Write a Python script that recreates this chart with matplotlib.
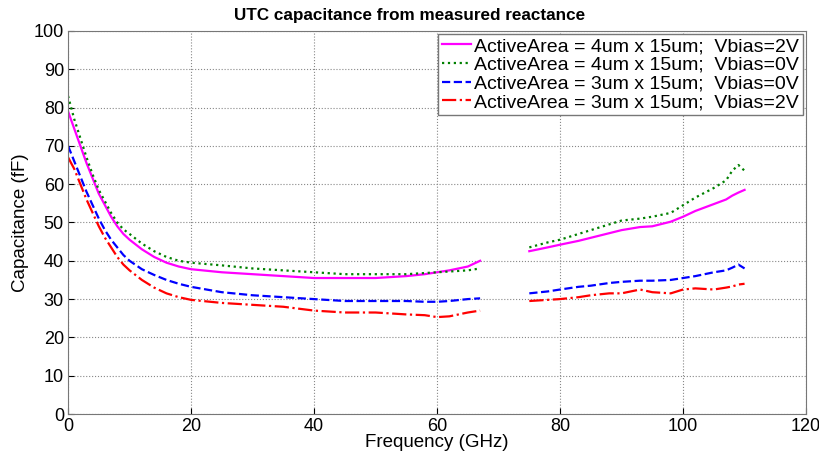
import matplotlib
matplotlib.use('Agg')
import matplotlib.pyplot as plt
import numpy as np

plt.rcParams['font.family'] = ['Liberation Sans', 'DejaVu Sans']

# low band (0-67 GHz) and high band (75-110 GHz) measurements
f_low = [0, 1, 2, 3, 4, 5, 6, 7, 8, 9, 10, 12, 14, 16, 18, 20, 25, 30, 35, 40, 45, 50, 55, 58, 60, 62, 65, 67]
f_high = [75, 78, 80, 83, 85, 88, 90, 93, 95, 98, 100, 102, 105, 107, 108, 109, 110]

mag_low = [79, 74.5, 70, 65.5, 61.5, 57.5, 54.5, 51.5, 49, 47, 45.5, 43, 41, 39.5, 38.5, 37.8, 37, 36.5, 36, 35.5, 35.5, 35.5, 36, 36.5, 37, 37.5, 38.5, 40]
mag_high = [42.5, 43.5, 44.2, 45.2, 46, 47.2, 48, 48.8, 49, 50.2, 51.5, 53, 54.8, 56, 57, 57.8, 58.5]

grn_low = [83, 77, 72, 67, 62.5, 58.5, 55.5, 52.5, 50, 48.2, 47, 44.5, 42.5, 41, 40, 39.5, 38.8, 38, 37.5, 37, 36.5, 36.5, 36.5, 36.8, 37, 37.2, 37.5, 38]
grn_high = [43.5, 44.8, 45.5, 47, 48, 49.5, 50.5, 51, 51.5, 52.5, 54.5, 56.5, 59, 61, 63.5, 65, 63.5]

blu_low = [70, 66, 62, 58, 54.5, 51, 48, 45.5, 43.5, 41.5, 40, 37.8, 36.3, 35, 34, 33.2, 31.8, 31, 30.5, 30, 29.5, 29.5, 29.5, 29.3, 29.3, 29.5, 30, 30.2]
blu_high = [31.5, 32, 32.5, 33.2, 33.5, 34.2, 34.5, 34.8, 34.8, 35, 35.5, 36, 37, 37.5, 38.2, 39, 38]

red_low = [67, 64, 60, 56, 52.5, 49, 46, 43.5, 41, 39, 37.5, 35, 33, 31.5, 30.5, 29.8, 29, 28.5, 28, 27, 26.5, 26.5, 26, 25.8, 25.3, 25.5, 26.5, 27]
red_high = [29.5, 29.8, 30, 30.5, 31, 31.5, 31.5, 32.5, 31.8, 31.5, 32.5, 32.8, 32.5, 33, 33.3, 33.8, 34]

labels = ['ActiveArea = 4um x 15um;  Vbias=2V',
          'ActiveArea = 4um x 15um;  Vbias=0V',
          'ActiveArea = 3um x 15um;  Vbias=0V',
          'ActiveArea = 3um x 15um;  Vbias=2V']

fig = plt.figure(figsize=(8.2, 4.54), dpi=100)
ax = fig.add_axes([0.083, 0.088, 0.9, 0.844])

series = [
    (mag_low, mag_high, '#ff00ff', '-'),
    (grn_low, grn_high, '#008000', ':'),
    (blu_low, blu_high, '#0000ff', '--'),
    (red_low, red_high, '#ff0000', '-.'),
]
for (lo, hi, c, ls), lab in zip(series, labels):
    ax.plot(f_low, lo, color=c, linestyle=ls, linewidth=1.6, label=lab)
    ax.plot(f_high, hi, color=c, linestyle=ls, linewidth=1.6)

ax.set_xlim(0, 120)
ax.set_ylim(0, 100)
ax.set_xticks(np.arange(0, 121, 20))
ax.set_yticks(np.arange(0, 101, 10))
ax.grid(True, linestyle=':', color='#888888', linewidth=0.8)
ax.tick_params(direction='in', labelsize=13, length=4)
ax.tick_params(axis='x', pad=3)
ax.tick_params(axis='y', pad=3)
for s in ax.spines.values():
    s.set_color('#777777')

ax.set_xlabel('Frequency (GHz)', fontsize=13.5, labelpad=-1)
ax.set_ylabel('Capacitance (fF)', fontsize=13.5, labelpad=3)
fig.text(0.5, 0.965, 'UTC capacitance from measured reactance', fontsize=12.3,
         fontweight='bold', ha='center', va='center')

leg = ax.legend(loc='upper right', fontsize=14, handlelength=1.5, handletextpad=0.15,
                borderaxespad=0.15, labelspacing=0.05, fancybox=False, framealpha=1,
                borderpad=0.2)
leg.get_frame().set_edgecolor('#777777')

fig.savefig('out.png', dpi=100)
